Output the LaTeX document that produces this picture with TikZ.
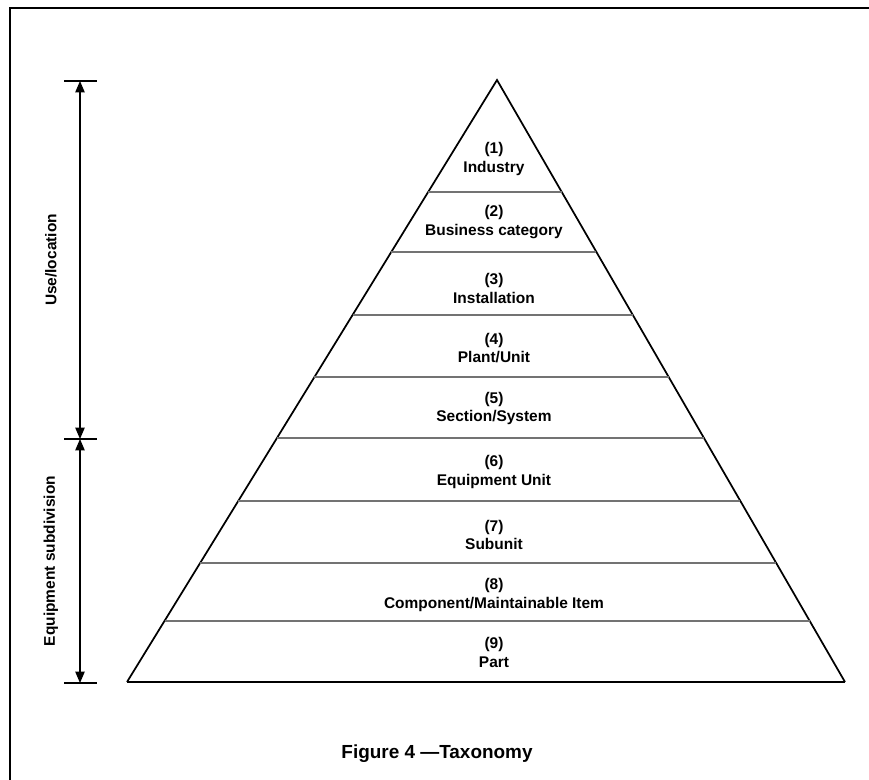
\documentclass[tikz,border=0pt]{standalone}
\usepackage{fontspec}
\setmainfont{Liberation Sans}
\usetikzlibrary{arrows.meta}
\tikzset{
  level/.style={align=center, inner sep=0pt, font=\bfseries\fontsize{11.6}{14}\selectfont},
  sidelabel/.style={rotate=90, inner sep=0pt, font=\bfseries\fontsize{11.6}{14}\selectfont},
  band/.style={line width=1.5pt, color=black!55},
  dimarrow/.style={line width=1pt, {Triangle[length=8.5pt,width=7pt]}-{Triangle[length=8.5pt,width=7pt]}},
}

\begin{document}
\begin{tikzpicture}[x=0.75pt, y=-0.75pt]
			%%%%% START %%%%%
			\useasboundingbox (0,0) rectangle (869,780);
			
			% frame
			\draw[line width=1.6pt] (10,780) -- (10,8) -- (869,8);
			
			% pyramid
			\coordinate (apex) at (497,80);
			\coordinate (baseL) at (127,682);
			\coordinate (baseR) at (845,682);
			\draw[line width=1.3pt] (baseL) -- (apex) -- (baseR);
			\draw[line width=1.7pt] (baseL) -- (baseR);
			\foreach \y in {192,252,315,377,438,501,563,621}
				\draw[band] ({497-0.6146*(\y-80)}, \y) -- ({497+0.5781*(\y-80)}, \y);
			
			\node[level] (industry) at (494,159) {(1)\\Industry};
			\node[level] (business) at (494,222) {(2)\\Business category};
			\node[level] (installation) at (494,288.5) {(3)\\Installation};
			\node[level] (plant) at (494,348) {(4)\\Plant/Unit};
			\node[level] (section) at (494,408.5) {(5)\\Section/System};
			\node[level] (equipment) at (494,472) {(6)\\Equipment Unit};
			\node[level] (subunit) at (494,535) {(7)\\Subunit};
			\node[level] (component) at (494,595) {(8)\\Component/Maintainable Item};
			\node[level] (part) at (494,652.5) {(9)\\Part};
			
			% dimension arrows
			\coordinate (tickT) at (80,81);
			\coordinate (tickM) at (80,439);
			\coordinate (tickB) at (80,683);
			\draw[line width=1.1pt] (64,81) -- (97,81);
			\draw[line width=1.1pt] (64,439) -- (97,439);
			\draw[line width=1.1pt] (64,683) -- (97,683);
			\draw[dimarrow] (tickT) -- (tickM);
			\draw[dimarrow] (tickM) -- (tickB);
			
			\node[sidelabel] (uselabel) at (51,260) {Use/location};
			\node[sidelabel] (equiplabel) at (51,561) {Equipment subdivision};
			
			% caption
			\node[font=\bfseries\fontsize{14.2}{17}\selectfont] (caption) at (437,754) {Figure 4 —Taxonomy};
			%%%%% END %%%%%
\end{tikzpicture}
\end{document}
